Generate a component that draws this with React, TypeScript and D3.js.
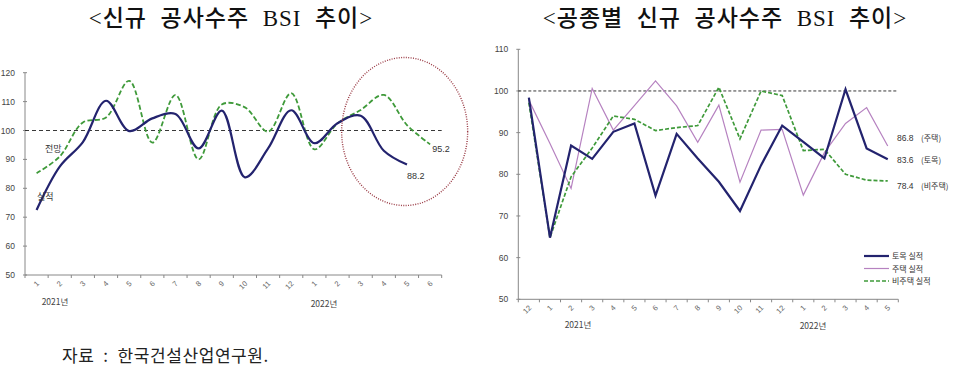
import * as d3 from 'd3'

// left chart: 신규 공사수주 BSI (2021.1 ~ 2022.6)
const leftMonths = ['1', '2', '3', '4', '5', '6', '7', '8', '9', '10', '11', '12', '1', '2', '3', '4', '5', '6']
const actual = [72.5, 87.5, 96, 110.3, 99.8, 104.2, 105.7, 93.8, 106.9, 83.8, 93.8, 107, 95.6, 102.5, 105.1, 93, 88.2]
const outlook = [85.2, 91, 102.8, 104.5, 117.2, 95.8, 112.3, 90, 109, 108, 99.6, 112.9, 93.5, 102.5, 107.1, 112.3, 101.9, 95.2]
const leftTicks = [50, 60, 70, 80, 90, 100, 110, 120]

// right chart: 공종별 (2020.12 ~ 2022.5)
const rightMonths = ['12', '1', '2', '3', '4', '5', '6', '7', '8', '9', '10', '11', '12', '1', '2', '3', '4', '5']
const civil = [98.4, 64.8, 86.9, 83.7, 90.2, 92.2, 74.9, 89.7, 83.8, 78.2, 71.2, 82.2, 91.7, 87.8, 83.8, 100.4, 86.2, 83.6]
const housing = [97.8, 87.4, 76.6, 100.6, 90.6, 96.5, 102.4, 96.4, 87.7, 96.6, 78.1, 90.6, 90.8, 75, 85.2, 92.2, 96, 86.8]
const nonHousing = [97.2, 64.8, 79.4, 86.3, 94, 93.2, 90.5, 91.2, 91.7, 100.9, 88.5, 100, 98.9, 85.7, 86, 80, 78.6, 78.4]
const rightTicks = [50, 60, 70, 80, 90, 100, 110]

const NAVY = '#23236e'
const GREEN = '#3f9a3a'
const PURPLE = '#b682c0'
const AXIS = '#888'
const LABEL = '#444'
const sans = "'Liberation Sans', Arial, 'Noto Sans CJK KR', sans-serif"
const kr = "'Noto Sans CJK KR', sans-serif"
const titleFont = "'Liberation Serif', 'Noto Sans CJK KR', serif"

const App = () => {
  const xL = d3.scaleLinear().domain([0, 18]).range([25, 441.7])
  const yL = d3.scaleLinear().domain([50, 120]).range([275, 72.7])
  const xR = d3.scaleLinear().domain([0, 18]).range([518.3, 898.3])
  const yR = d3.scaleLinear().domain([50, 110]).range([299.3, 49.3])

  const smooth = d3
    .line<number>()
    .x((_, i) => xL(i + 0.5))
    .y(d => yL(d))
    .curve(d3.curveCatmullRom.alpha(0.5))
  const straight = d3
    .line<number>()
    .x((_, i) => xR(i + 0.5))
    .y(d => yR(d))

  const lastL = actual.length - 1
  const lastO = outlook.length - 1
  const lastR = civil.length - 1

  const legend = [
    { label: '토목 실적', color: NAVY, width: 2.2, dash: '' },
    { label: '주택 실적', color: PURPLE, width: 1.2, dash: '' },
    { label: '비주택 실적', color: GREEN, width: 1.6, dash: '4,2' },
  ]

  return (
    <svg
      width={960}
      height={368}
      style={{ position: 'absolute', left: 0, top: 0, background: '#fff' }}
    >
      {/* titles */}
      <text
        x={231}
        y={26}
        textAnchor="middle"
        fontSize={23}
        fontFamily={titleFont}
        fontWeight={500}
        letterSpacing={1}
        fill="#111"
        style={{ whiteSpace: 'pre' }}
      >
        {'<신규  공사수주  BSI  추이>'}
      </text>
      <text
        x={725}
        y={26}
        textAnchor="middle"
        fontSize={23}
        fontFamily={titleFont}
        fontWeight={500}
        letterSpacing={1}
        fill="#111"
        style={{ whiteSpace: 'pre' }}
      >
        {'<공종별  신규  공사수주  BSI  추이>'}
      </text>

      {/* ---------- left chart ---------- */}
      <line x1={xL(0)} x2={xL(0)} y1={yL(120)} y2={yL(50)} stroke={AXIS} />
      <line x1={xL(0)} x2={xL(18)} y1={yL(50)} y2={yL(50)} stroke={AXIS} />
      {leftTicks.map(t => (
        <g key={t}>
          <line x1={xL(0) - 2} x2={xL(0) + 2} y1={yL(t)} y2={yL(t)} stroke={AXIS} />
          <text x={xL(0) - 10} y={yL(t) + 3} textAnchor="end" fontSize={8.5} fontFamily={sans} fill={LABEL}>
            {t}
          </text>
        </g>
      ))}
      {d3.range(19).map(i => (
        <line key={i} x1={xL(i)} x2={xL(i)} y1={yL(50)} y2={yL(50) + 3} stroke={AXIS} />
      ))}
      {leftMonths.map((m, i) => (
        <text
          key={i}
          transform={`translate(${xL(i + 0.5) + 3},${yL(50) + 9}) rotate(-45)`}
          textAnchor="end"
          fontSize={7.5}
          fontFamily={sans}
          fill="#666"
        >
          {m}
        </text>
      ))}
      <text x={55} y={305} textAnchor="middle" fontSize={8.5} fontFamily={kr} fill={LABEL}>2021년</text>
      <text x={324} y={307} textAnchor="middle" fontSize={8.5} fontFamily={kr} fill={LABEL}>2022년</text>
      <line x1={xL(0)} x2={xL(18)} y1={yL(100)} y2={yL(100)} stroke="#222" strokeDasharray="4,3" strokeWidth={0.9} />
      <path d={smooth(outlook) ?? ''} fill="none" stroke={GREEN} strokeWidth={1.8} strokeDasharray="5,2.5" />
      <path d={smooth(actual) ?? ''} fill="none" stroke={NAVY} strokeWidth={2.2} />
      <text x={45} y={152} fontSize={9} fontFamily={kr} fill="#333">전망</text>
      <text x={37} y={200} fontSize={9} fontFamily={kr} fill="#333">실적</text>
      <text x={xL(lastL + 0.5)} y={yL(actual[lastL]) + 14} fontSize={9} fontFamily={sans} fill="#333">
        {actual[lastL]}
      </text>
      <text x={xL(lastO + 0.5) + 2} y={yL(outlook[lastO]) + 8} fontSize={9} fontFamily={sans} fill="#333">
        {outlook[lastO]}
      </text>
      <ellipse
        cx={xL(16.4)}
        cy={yL(100) + 1}
        rx={63}
        ry={74}
        fill="none"
        stroke="#9a3b45"
        strokeWidth={1.4}
        strokeDasharray="1,1.4"
      />

      {/* ---------- right chart ---------- */}
      <line x1={xR(0)} x2={xR(0)} y1={yR(110)} y2={yR(50)} stroke={AXIS} />
      <line x1={xR(0)} x2={xR(18)} y1={yR(50)} y2={yR(50)} stroke={AXIS} />
      {rightTicks.map(t => (
        <g key={t}>
          <line x1={xR(0) - 2} x2={xR(0) + 2} y1={yR(t)} y2={yR(t)} stroke={AXIS} />
          <text x={xR(0) - 10} y={yR(t) + 3} textAnchor="end" fontSize={8.5} fontFamily={sans} fill={LABEL}>
            {t}
          </text>
        </g>
      ))}
      {d3.range(19).map(i => (
        <line key={i} x1={xR(i)} x2={xR(i)} y1={yR(50)} y2={yR(50) + 3} stroke={AXIS} />
      ))}
      {rightMonths.map((m, i) => (
        <text
          key={i}
          transform={`translate(${xR(i + 0.5) + 3},${yR(50) + 9}) rotate(-45)`}
          textAnchor="end"
          fontSize={7.5}
          fontFamily={sans}
          fill="#666"
        >
          {m}
        </text>
      ))}
      <text x={578} y={328} textAnchor="middle" fontSize={8.5} fontFamily={kr} fill={LABEL}>2021년</text>
      <text x={813} y={329} textAnchor="middle" fontSize={8.5} fontFamily={kr} fill={LABEL}>2022년</text>
      <line x1={xR(0)} x2={xR(18)} y1={yR(100)} y2={yR(100)} stroke="#222" strokeDasharray="3,2" strokeWidth={0.9} />
      <path d={straight(housing) ?? ''} fill="none" stroke={PURPLE} strokeWidth={1.2} />
      <path d={straight(nonHousing) ?? ''} fill="none" stroke={GREEN} strokeWidth={1.7} strokeDasharray="4,2" />
      <path d={straight(civil) ?? ''} fill="none" stroke={NAVY} strokeWidth={2.2} />
      {[
        { v: housing[lastR], name: '(주택)', dy: -5 },
        { v: civil[lastR], name: '(토목)', dy: 4 },
        { v: nonHousing[lastR], name: '(비주택)', dy: 8 },
      ].map(a => (
        <g key={a.name}>
          <text x={897} y={yR(a.v) + a.dy} fontSize={8.5} fontFamily={sans} fill="#333">
            {a.v}
          </text>
          <text x={921} y={yR(a.v) + a.dy} fontSize={8} fontFamily={kr} fill="#333">
            {a.name}
          </text>
        </g>
      ))}
      {legend.map((l, i) => (
        <g key={l.label} transform={`translate(864,${256 + i * 12.5})`}>
          <line x1={0} x2={25} y1={0} y2={0} stroke={l.color} strokeWidth={l.width} strokeDasharray={l.dash} />
          <text x={28} y={3} fontSize={8} fontFamily={kr} fill="#333">
            {l.label}
          </text>
        </g>
      ))}

      {/* source */}
      <text
        x={62}
        y={362}
        fontSize={17}
        fontFamily={kr}
        letterSpacing={0.6}
        fill="#222"
        style={{ whiteSpace: 'pre' }}
      >
        {'자료  :  한국건설산업연구원.'}
      </text>
    </svg>
  )
}

export default App
